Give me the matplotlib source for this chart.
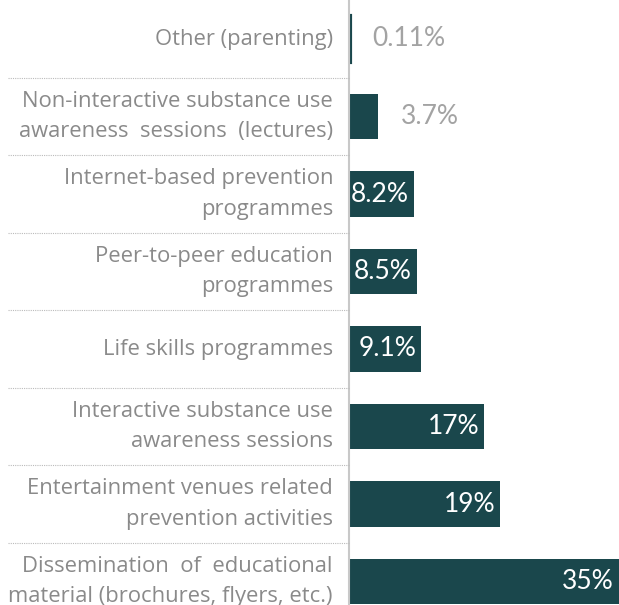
import matplotlib
matplotlib.use("Agg")
import matplotlib.pyplot as plt

categories = [
    "Other (parenting)",
    "Non-interactive substance use\nawareness  sessions  (lectures)",
    "Internet-based prevention\nprogrammes",
    "Peer-to-peer education\nprogrammes",
    "Life skills programmes",
    "Interactive substance use\nawareness sessions",
    "Entertainment venues related\nprevention activities",
    "Dissemination  of  educational\nmaterial (brochures, flyers, etc.)",
]
values = [0.11, 3.7, 8.2, 8.5, 9.1, 17, 19, 35]
value_labels = ["0.11%", "3.7%", "8.2%", "8.5%", "9.1%", "17%", "19%", "35%"]

BAR = "#1a474c"
GREY = "#8a8a8a"

W, H = 619, 605
fig = plt.figure(figsize=(W / 100, H / 100), dpi=100)
x0 = 349 / W
ax = fig.add_axes([x0, 0, 1 - x0, 1])
xmax = 270 / 7.95
ax.set_xlim(0, xmax)
ax.set_ylim((605 - 39) / 77.5, -39 / 77.5)

ys = list(range(len(values)))
bars = ax.barh(ys, values, height=0.59, color=BAR)
# give the tiny bar a visible minimum width
bars[0].set_edgecolor(BAR)
bars[0].set_linewidth(3)

for i, (v, lab) in enumerate(zip(values, value_labels)):
    if v < 5:
        ax.annotate(lab, (v, i), xytext=(22, 0), textcoords="offset pixels",
                    ha="left", va="center", color="#a3a3a3", fontsize=19,
                    family="Lato", fontweight="normal")
    else:
        xe = min(v, xmax)
        ax.annotate(lab, (xe, i), xytext=(-5, 0), textcoords="offset pixels",
                    ha="right", va="center", color="white", fontsize=19,
                    family="Lato", fontweight="normal")

for i, c in enumerate(categories):
    ax.annotate(c, (0, i), xytext=(-16, 0), textcoords="offset pixels",
                ha="right", va="center", color=GREY, fontsize=15.8,
                family="Open Sans", linespacing=1.58, annotation_clip=False)

# dotted separators
for i in range(len(values) - 1):
    yy = i + 0.5
    fig.add_artist(plt.Line2D([8 / W, x0], [1 - (39 + 77.5 * yy) / H] * 2,
                              color="#bbbbbb", lw=0.8, ls=(0, (1, 1)),
                              transform=fig.transFigure))

for s in ["top", "right", "bottom"]:
    ax.spines[s].set_visible(False)
ax.spines["left"].set_color("#c8c8c8")
ax.spines["left"].set_linewidth(1.5)
ax.set_xticks([])
ax.set_yticks([])
ax.patch.set_alpha(0)

fig.savefig("out.png", dpi=100)
